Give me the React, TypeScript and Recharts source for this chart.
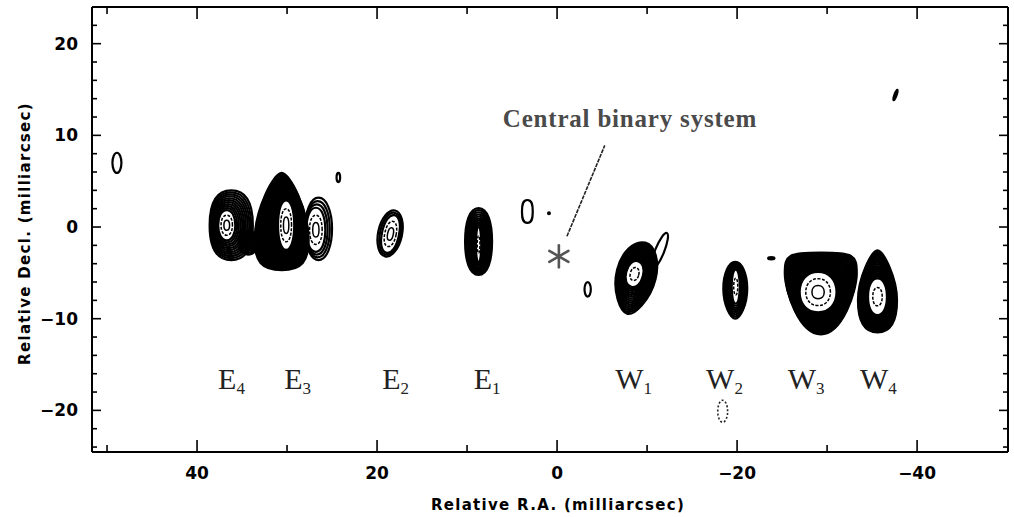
import React from "react";
import { ScatterChart, Scatter, XAxis, YAxis, ReferenceLine, Label } from "recharts";

// axes (milliarcsec); R.A. runs right to left
const RA_DOMAIN: [number, number] = [-50.1, 51.67];
const DEC_DOMAIN: [number, number] = [-24.54, 24];
const RA_MAJOR = [40, 20, 0, -20, -40];
const RA_MINOR = [50, 30, 10, -10, -30];
const DEC_MAJOR = [20, 10, 0, -10, -20];
const DEC_MINOR = [22, 18, 16, 14, 12, 8, 6, 4, 2, -2, -4, -6, -8, -12, -14, -16, -18, -22, -24];

// bright knots: centre, half extents (left/right/top/bottom, mas), contour levels, core
const eastKnots = [
  { name: "E4", ra: 36.2, dec: 0.2, wl: 2.4, wr: 2.4, ht: 3.8, hb: 3.8, kt: 0.75, kb: 0.75, levels: 7, core: { ra: 36.7, dec: 0.2, w: 0.95, h: 1.65 }, inner: 2 },
  { name: "E4b", ra: 34.3, dec: -1.7, wl: 1.1, wr: 1.1, ht: 1.3, hb: 1.3, levels: 5, inner: 0 },
  { name: "E3b", ra: 26.5, dec: -0.2, wl: 1.5, wr: 1.5, ht: 3.4, hb: 3.4, kt: 0.6, kb: 0.6, levels: 4, core: { ra: 26.8, dec: -0.3, w: 1.05, h: 2.4 }, inner: 2 },
  { name: "E3", ra: 30.6, dec: -1.4, wl: 3.0, wr: 3.0, ht: 7.3, hb: 3.3, kt: 0.3, kb: 0.75, kst: 0.45, ksb: 0.7, levels: 10, core: { ra: 30.1, dec: 0.2, w: 0.9, h: 2.7 }, inner: 2 },
  { name: "E2", ra: 18.55, dec: -0.7, wl: 1.33, wr: 1.33, ht: 2.56, hb: 2.56, rot: 12, levels: 3, core: { ra: 18.5, dec: -0.75, w: 0.95, h: 2.1 }, inner: 2 },
  { name: "E1", ra: 8.72, dec: -1.58, wl: 1.5, wr: 1.5, ht: 3.65, hb: 3.65, kt: 0.7, kb: 0.7, levels: 7, core: { ra: 8.72, dec: -1.9, w: 0.3, h: 1.9 }, inner: 1 },
];

const westKnots = [
  { name: "W1", ra: -8.9, dec: -5.2, wl: 2.3, wr: 2.1, ht: 3.6, hb: 4.4, kb: 0.35, rot: 14, levels: 5, core: { ra: -8.6, dec: -5.2, w: 0.95, h: 1.45 }, inner: 1 },
  { name: "W2", ra: -19.8, dec: -6.7, wl: 1.33, wr: 1.33, ht: 2.9, hb: 3.3, kb: 0.4, levels: 5, core: { ra: -19.85, dec: -6.5, w: 0.45, h: 1.85 }, inner: 1 },
  { name: "W3", ra: -29.3, dec: -5.0, wl: 4.0, wr: 4.0, ht: 2.2, hb: 6.7, kt: 0.9, kb: 0.6, kst: 0.9, ksb: 0.3, levels: 9, core: { ra: -29.0, dec: -7.1, w: 2.05, h: 2.2 }, inner: 2 },
  { name: "W4", ra: -35.6, dec: -8.0, wl: 2.17, wr: 2.17, ht: 5.45, hb: 3.5, kt: 0.3, kb: 0.7, kst: 0.45, ksb: 0.65, levels: 6, core: { ra: -35.6, dec: -7.6, w: 1.05, h: 2.0 }, inner: 1 },
];

// single faint contours
const faintPatches = [
  { ra: 48.9, dec: 7.0, wl: 0.5, wr: 0.5, ht: 1.1, hb: 1.1 },
  { ra: 24.3, dec: 5.4, wl: 0.2, wr: 0.2, ht: 0.5, hb: 0.5 },
  { ra: 3.3, dec: 1.7, wl: 0.6, wr: 0.6, ht: 1.25, hb: 1.25, kt: 0.9, kb: 0.9 },
  { ra: 0.9, dec: 1.5, wl: 0.1, wr: 0.1, ht: 0.1, hb: 0.1 },
  { ra: -3.4, dec: -6.8, wl: 0.35, wr: 0.35, ht: 0.8, hb: 0.8 },
  { ra: -11.4, dec: -2.6, wl: 0.5, wr: 0.5, ht: 2.1, hb: 2.1, rot: 22 },
  { ra: -23.8, dec: -3.4, wl: 0.35, wr: 0.35, ht: 0.12, hb: 0.12 },
  { ra: -37.6, dec: 14.4, wl: 0.12, wr: 0.12, ht: 0.6, hb: 0.6, rot: 20 },
];
const dottedPatches = [{ ra: -18.4, dec: -20.1, wl: 0.55, wr: 0.55, ht: 1.2, hb: 1.2 }];

const knotLabels = [
  { ra: 36.17, dec: -17.7, base: "E", sub: "4" },
  { ra: 28.83, dec: -17.7, base: "E", sub: "3" },
  { ra: 17.94, dec: -17.7, base: "E", sub: "2" },
  { ra: 7.78, dec: -17.7, base: "E", sub: "1" },
  { ra: -8.5, dec: -17.7, base: "W", sub: "1" },
  { ra: -18.6, dec: -17.7, base: "W", sub: "2" },
  { ra: -27.67, dec: -17.7, base: "W", sub: "3" },
  { ra: -35.7, dec: -17.7, base: "W", sub: "4" },
];
const binary = [{ ra: -0.2, dec: -3.2 }];
const caption = [{ ra: -8.1, dec: 10.9, text: "Central binary system" }];
const leader = [{ x: -1.1, y: -1.0 }, { x: -5.3, y: 8.9 }];
const frameAnchor = [{ ra: 0, dec: 0 }];

const W = 1014;
const H = 517;
const MARGIN = { top: 6, right: 5, bottom: 0, left: 0 };
const Y_AXIS_W = 92;
const X_AXIS_H = 65;
const PX_RA = (W - MARGIN.left - MARGIN.right - 1 - Y_AXIS_W) / (RA_DOMAIN[1] - RA_DOMAIN[0]);
const PX_DEC = (H - MARGIN.top - 1 - MARGIN.bottom - X_AXIS_H) / (DEC_DOMAIN[1] - DEC_DOMAIN[0]);

const TICK_FONT = "DejaVu Sans";

type Outline = {
  x: number; y: number; wl: number; wr: number; ht: number; hb: number;
  kt: number; kb: number; kst: number; ksb: number;
};

function outlinePath(o: Outline) {
  const { x, y, wl, wr, ht, hb, kt, kb, kst, ksb } = o;
  return (
    `M${x + wr},${y} ` +
    `C${x + wr},${y - kst * ht} ${x + kt * wr},${y - ht} ${x},${y - ht} ` +
    `C${x - kt * wl},${y - ht} ${x - wl},${y - kst * ht} ${x - wl},${y} ` +
    `C${x - wl},${y + ksb * hb} ${x - kb * wl},${y + hb} ${x},${y + hb} ` +
    `C${x + kb * wr},${y + hb} ${x + wr},${y + ksb * hb} ${x + wr},${y} Z`
  );
}

function lerp(a: Outline, b: Outline, t: number): Outline {
  const m = (p: number, q: number) => p + (q - p) * t;
  return {
    x: m(a.x, b.x), y: m(a.y, b.y), wl: m(a.wl, b.wl), wr: m(a.wr, b.wr),
    ht: m(a.ht, b.ht), hb: m(a.hb, b.hb), kt: m(a.kt, b.kt), kb: m(a.kb, b.kb),
    kst: m(a.kst, b.kst), ksb: m(a.ksb, b.ksb),
  };
}

function outerOf(k: any, cx: number, cy: number): Outline {
  return {
    x: cx, y: cy,
    wl: k.wl * PX_RA, wr: k.wr * PX_RA, ht: k.ht * PX_DEC, hb: k.hb * PX_DEC,
    kt: k.kt ?? 0.55, kb: k.kb ?? 0.55, kst: k.kst ?? k.ks ?? 0.55, ksb: k.ksb ?? k.ks ?? 0.55,
  };
}

const Knot = (props: any) => {
  const { cx, cy, payload: k } = props;
  const outer = outerOf(k, cx, cy);
  const core: Outline = k.core
    ? {
        x: cx - (k.core.ra - k.ra) * PX_RA,
        y: cy - (k.core.dec - k.dec) * PX_DEC,
        wl: k.core.w * PX_RA, wr: k.core.w * PX_RA, ht: k.core.h * PX_DEC, hb: k.core.h * PX_DEC,
        kt: 0.6, kb: 0.6, kst: 0.6, ksb: 0.6,
      }
    : { ...outer, wl: outer.wl * 0.12, wr: outer.wr * 0.12, ht: outer.ht * 0.12, hb: outer.hb * 0.12 };
  const band = Math.max(outer.wl - core.wl, outer.ht - core.ht, outer.hb - core.hb);
  const n = k.levels >= 5 ? Math.max(k.levels, Math.ceil(band / 2) + 1) : k.levels;
  const rings: Outline[] = [];
  for (let i = 0; i < n; i++) rings.push(lerp(outer, core, n === 1 ? 0 : i / (n - 1)));
  const inner: Outline[] = [];
  for (let j = 1; j <= (k.inner ?? 0); j++) {
    const s = 1 - j / (k.inner + 1);
    inner.push({ ...core, wl: core.wl * s, wr: core.wr * s, ht: core.ht * s, hb: core.hb * s });
  }
  return (
    <g transform={`rotate(${k.rot ?? 0} ${cx} ${cy})`} fill="none" stroke="#000">
      {rings.map((r, i) => (
        <path key={`r${i}`} d={outlinePath(r)} strokeWidth={2.2} />
      ))}
      {inner.map((r, i) => (
        <path key={`i${i}`} d={outlinePath(r)} strokeWidth={1.5} strokeDasharray={i === 0 ? "3 1.5" : undefined} />
      ))}
    </g>
  );
};

const Patch = (props: any) => {
  const { cx, cy, payload } = props;
  return (
    <path
      d={outlinePath(outerOf(payload, cx, cy))}
      transform={`rotate(${payload.rot ?? 0} ${cx} ${cy})`}
      fill="none"
      stroke="#000"
      strokeWidth={2.2}
    />
  );
};

const DottedPatch = (props: any) => {
  const { cx, cy, payload } = props;
  return (
    <path
      d={outlinePath(outerOf(payload, cx, cy))}
      fill="none"
      stroke="#222"
      strokeWidth={1.6}
      strokeDasharray="2 2"
    />
  );
};

const KnotLabel = (props: any) => {
  const { cx, cy, payload } = props;
  return (
    <text x={cx} y={cy} textAnchor="middle" fontFamily="Liberation Serif" fontSize={30} fill="#222">
      {payload.base}
      <tspan fontSize={17} dy={5}>{payload.sub}</tspan>
    </text>
  );
};

const Asterisk = (props: any) => {
  const { cx, cy } = props;
  const r = 11;
  return (
    <g stroke="#555" strokeWidth={2.6} strokeLinecap="round">
      {[90, 30, -30].map((a) => {
        const dx = r * Math.cos((a * Math.PI) / 180);
        const dy = r * Math.sin((a * Math.PI) / 180);
        return <line key={a} x1={cx - dx} y1={cy - dy} x2={cx + dx} y2={cy + dy} />;
      })}
    </g>
  );
};

const Caption = (props: any) => {
  const { cx, cy, payload } = props;
  return (
    <text x={cx} y={cy} textAnchor="middle" fontFamily="Liberation Serif" fontWeight="bold" fontSize={25} letterSpacing={0.8} fill="#4a4a4a">
      {payload.text}
    </text>
  );
};

const Nothing = () => <g />;

const fmt = (v: number) => (v < 0 ? `\u2212${-v}` : `${v}`);

const BottomTick = (props: any) => {
  const { x, y, payload } = props;
  const major = RA_MAJOR.includes(payload.value);
  return (
    <g>
      <line x1={x} y1={y} x2={x} y2={y - (major ? 12 : 7)} stroke="#000" strokeWidth={1.6} />
      {major && (
        <text x={x} y={y + 27} textAnchor="middle" fontFamily={TICK_FONT} fontWeight="bold" fontSize={17} fill="#000">
          {fmt(payload.value)}
        </text>
      )}
    </g>
  );
};

const TopTick = (props: any) => {
  const { x, y, payload } = props;
  const major = RA_MAJOR.includes(payload.value);
  return <line x1={x} y1={y} x2={x} y2={y + (major ? 12 : 7)} stroke="#000" strokeWidth={1.6} />;
};

const LeftTick = (props: any) => {
  const { x, y, payload } = props;
  const major = DEC_MAJOR.includes(payload.value);
  return (
    <g>
      <line x1={x} y1={y} x2={x + (major ? 9 : 5)} y2={y} stroke="#000" strokeWidth={1.6} />
      {major && (
        <text x={x - 14} y={y + 6} textAnchor="end" fontFamily={TICK_FONT} fontWeight="bold" fontSize={17} fill="#000">
          {fmt(payload.value)}
        </text>
      )}
    </g>
  );
};

const RightTick = (props: any) => {
  const { x, y, payload } = props;
  const major = DEC_MAJOR.includes(payload.value);
  return <line x1={x} y1={y} x2={x - (major ? 9 : 5)} y2={y} stroke="#000" strokeWidth={1.6} />;
};

const YTitle = (props: any) => {
  const vb = props.viewBox;
  const x = vb.x + 25;
  const y = vb.y + vb.height / 2 + 4;
  return (
    <text x={x} y={y} transform={`rotate(-90 ${x} ${y})`} textAnchor="middle" dominantBaseline="middle" fontFamily={TICK_FONT} fontWeight="bold" fontSize={15} letterSpacing={1.3} fill="#000">
      Relative Decl. (milliarcsec)
    </text>
  );
};

const XTitle = (props: any) => {
  const vb = props.viewBox;
  return (
    <text x={vb.x + vb.width / 2 + 8} y={vb.y + 58} textAnchor="middle" fontFamily={TICK_FONT} fontWeight="bold" fontSize={15} letterSpacing={1.3} fill="#000">
      Relative R.A. (milliarcsec)
    </text>
  );
};

const axisLine = { stroke: "#000", strokeWidth: 2 };
const raTicks = [...RA_MAJOR, ...RA_MINOR];
const decTicks = [...DEC_MAJOR, ...DEC_MINOR];

export default function App() {
  return (
    <div style={{ position: "absolute", left: 0, top: 0, width: W, height: H, background: "#fff" }}>
      <ScatterChart width={W} height={H} margin={MARGIN}>
        <XAxis
          type="number" dataKey="ra" domain={RA_DOMAIN} reversed allowDataOverflow
          ticks={raTicks} interval={0} tickSize={0} tickMargin={0} height={X_AXIS_H}
          axisLine={axisLine} tickLine={false} tick={<BottomTick />}
        >
          <Label content={<XTitle />} />
        </XAxis>
        <XAxis
          xAxisId="top" orientation="top" type="number" dataKey="ra" domain={RA_DOMAIN} reversed allowDataOverflow
          ticks={raTicks} interval={0} tickSize={0} tickMargin={0} height={1}
          axisLine={axisLine} tickLine={false} tick={<TopTick />}
        />
        <YAxis
          type="number" dataKey="dec" domain={DEC_DOMAIN} allowDataOverflow
          ticks={decTicks} interval={0} tickSize={0} tickMargin={0} width={Y_AXIS_W}
          axisLine={axisLine} tickLine={false} tick={<LeftTick />}
        >
          <Label content={<YTitle />} />
        </YAxis>
        <YAxis
          yAxisId="right" orientation="right" type="number" dataKey="dec" domain={DEC_DOMAIN} allowDataOverflow
          ticks={decTicks} interval={0} tickSize={0} tickMargin={0} width={1}
          axisLine={axisLine} tickLine={false} tick={<RightTick />}
        />
        <Scatter data={frameAnchor} xAxisId="top" yAxisId="right" shape={<Nothing />} isAnimationActive={false} />
        <Scatter data={faintPatches} shape={<Patch />} isAnimationActive={false} />
        <Scatter data={dottedPatches} shape={<DottedPatch />} isAnimationActive={false} />
        <Scatter data={eastKnots} shape={<Knot />} isAnimationActive={false} />
        <Scatter data={westKnots} shape={<Knot />} isAnimationActive={false} />
        <ReferenceLine segment={leader} stroke="#222" strokeWidth={1.6} strokeDasharray="4 1" />
        <Scatter data={binary} shape={<Asterisk />} isAnimationActive={false} />
        <Scatter data={caption} shape={<Caption />} isAnimationActive={false} />
        <Scatter data={knotLabels} shape={<KnotLabel />} isAnimationActive={false} />
      </ScatterChart>
    </div>
  );
}
